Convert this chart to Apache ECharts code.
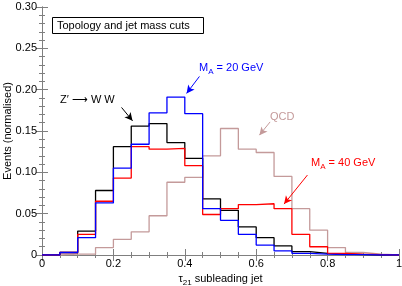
<!DOCTYPE html>
<html><head><meta charset="utf-8">
<script src="https://cdn.jsdelivr.net/npm/echarts@6/dist/echarts.min.js"></script>
<style>html,body{margin:0;padding:0;background:#fff}#c{width:402px;height:286px}</style>
</head><body><div id="c"></div>
<script>
var binEdges = [0,0.05,0.1,0.15,0.2,0.25,0.3,0.35,0.4,0.45,0.5,0.55,0.6,0.65,0.7,0.75,0.8,0.85,0.9,0.95,1.0];
var zprimeWW = [0,0.003,0.029,0.078,0.131,0.156,0.159,0.136,0.117,0.068,0.054,0.034,0.021,0.011,0.004,0.002,0.001,0.0005,0,0];
var ma20 = [0,0.003,0.021,0.063,0.105,0.134,0.172,0.191,0.171,0.056,0.042,0.025,0.012,0.005,0.002,0.001,0.0005,0.0005,0,0];
var ma40 = [0,0.003,0.025,0.065,0.093,0.131,0.128,0.129,0.108,0.049,0.056,0.061,0.062,0.056,0.025,0.010,0.002,0.001,0.0005,0];
var qcd = [0,0.001,0.001,0.009,0.019,0.028,0.0475,0.088,0.094,0.120,0.153,0.128,0.124,0.095,0.056,0.030,0.009,0.003,0.001,0];
var xTickLabels = ['0','0.2','0.4','0.6','0.8','1'];
var yTickLabels = ['0','0.05','0.10','0.15','0.20','0.25','0.30'];

function steps(vals){
  var pts=[];
  for(var i=0;i<vals.length;i++){ pts.push([binEdges[i],vals[i]]); pts.push([binEdges[i+1],vals[i]]); }
  return pts;
}
var FONT='"Liberation Sans", Arial, sans-serif';
function arrow(x1,y1,x2,y2,color){
  return {silent:true,animation:false,symbol:['none','arrow'],symbolSize:[6,8],
    label:{show:false},lineStyle:{color:color,width:1,type:'solid'},
    data:[[{coord:[x1,y1]},{coord:[x2,y2]}]]};
}
function hist(name,vals,color,ml){
  var s={name:name,type:'line',data:steps(vals),showSymbol:false,symbol:'none',
    lineStyle:{color:color,width:1.3},itemStyle:{color:color},animation:false};
  if(ml) s.markLine=ml;
  return s;
}
var axisCol='#7f7f7f';
var chart=echarts.init(document.getElementById('c'),null,{renderer:'canvas'});
chart.setOption({
  animation:false,
  grid:{left:42,right:3,top:7,bottom:31,containLabel:false,outerBoundsMode:'none'},
  xAxis:[{type:'value',min:0,max:1,interval:0.2,position:'bottom',
    axisLine:{lineStyle:{color:axisCol,width:1}},
    axisTick:{inside:true,length:6,lineStyle:{color:axisCol}},
    minorTick:{show:true,splitNumber:4,length:3,lineStyle:{color:axisCol}},
    splitLine:{show:false},
    axisLabel:{color:'#000',fontSize:11,fontFamily:FONT,margin:3,
      formatter:function(v){return xTickLabels[Math.round(v/0.2)];}},
    name:'{t|τ}{s|21}{t| subleading jet}',nameLocation:'middle',nameGap:16,
    nameTextStyle:{rich:{t:{fontSize:11,fontFamily:FONT,color:'#000'},s:{fontSize:8,fontFamily:FONT,color:'#000',verticalAlign:'bottom',padding:[6,0,0,0]}}}
  },{type:'value',min:0,max:1,interval:0.2,position:'top',
    axisLine:{lineStyle:{color:axisCol}},
    axisTick:{inside:true,length:6,lineStyle:{color:axisCol}},
    minorTick:{show:true,splitNumber:4,length:3,lineStyle:{color:axisCol}},
    axisLabel:{show:false},splitLine:{show:false}}],
  yAxis:[{type:'value',min:0,max:0.30,interval:0.05,position:'left',
    axisLine:{show:true,lineStyle:{color:axisCol}},
    axisTick:{show:true,inside:true,length:6,lineStyle:{color:axisCol}},
    minorTick:{show:true,splitNumber:5,length:3,lineStyle:{color:axisCol}},
    splitLine:{show:false},
    axisLabel:{color:'#000',fontSize:11,fontFamily:FONT,margin:5,
      formatter:function(v){return yTickLabels[Math.round(v/0.05)];}}
  },{type:'value',min:0,max:0.30,interval:0.05,position:'right',
    axisLine:{show:true,lineStyle:{color:axisCol}},
    axisTick:{show:true,inside:true,length:6,lineStyle:{color:axisCol}},
    minorTick:{show:true,splitNumber:5,length:3,lineStyle:{color:axisCol}},
    axisLabel:{show:false},splitLine:{show:false}}],
  series:[
    hist('QCD',qcd,'#c49a9a',arrow(0.639,0.161,0.609,0.145,'#c49a9a')),
    hist("Z' → W W",zprimeWW,'#000000',arrow(0.2228,0.1785,0.2536,0.1623,'#000')),
    hist('MA = 40 GeV',ma40,'#ff0000',arrow(0.7435,0.0967,0.678,0.0616,'#ff0000')),
    hist('MA = 20 GeV',ma20,'#0000ff',arrow(0.441,0.216,0.405,0.1955,'#0000ff'))
  ],
  graphic:[
    {type:'text',x:8,y:131,rotation:Math.PI/2,style:{text:'Events (normalised)',font:'11px '+FONT,fill:'#000',align:'center',verticalAlign:'middle'},z:11},
    {type:'rect',shape:{x:52.5,y:17.5,width:151,height:16},style:{fill:'#fff',stroke:'#000',lineWidth:1},z:10},
    {type:'text',x:57,y:25.5,style:{text:'Topology and jet mass cuts',font:'11px '+FONT,fill:'#000',verticalAlign:'middle'},z:11},
    {type:'text',x:60,y:100,style:{text:"Z′ ⟶ W W",font:'11px '+FONT,fill:'#000',verticalAlign:'middle'},z:11},
    {type:'text',x:270,y:117,style:{text:'QCD',font:'11px '+FONT,fill:'#c49a9a',verticalAlign:'middle'},z:11},
    {type:'text',x:199,y:68,style:{text:'{a|M}{b|A}{a| = 20 GeV}',verticalAlign:'middle',
      rich:{a:{font:'11px '+FONT,fill:'#0000ff'},b:{font:'8px '+FONT,fill:'#0000ff',padding:[7,0,0,0]}}},z:11},
    {type:'text',x:311,y:163,style:{text:'{a|M}{b|A}{a| = 40 GeV}',verticalAlign:'middle',
      rich:{a:{font:'11px '+FONT,fill:'#ff0000'},b:{font:'8px '+FONT,fill:'#ff0000',padding:[7,0,0,0]}}},z:11}
  ]
});
</script></body></html>
